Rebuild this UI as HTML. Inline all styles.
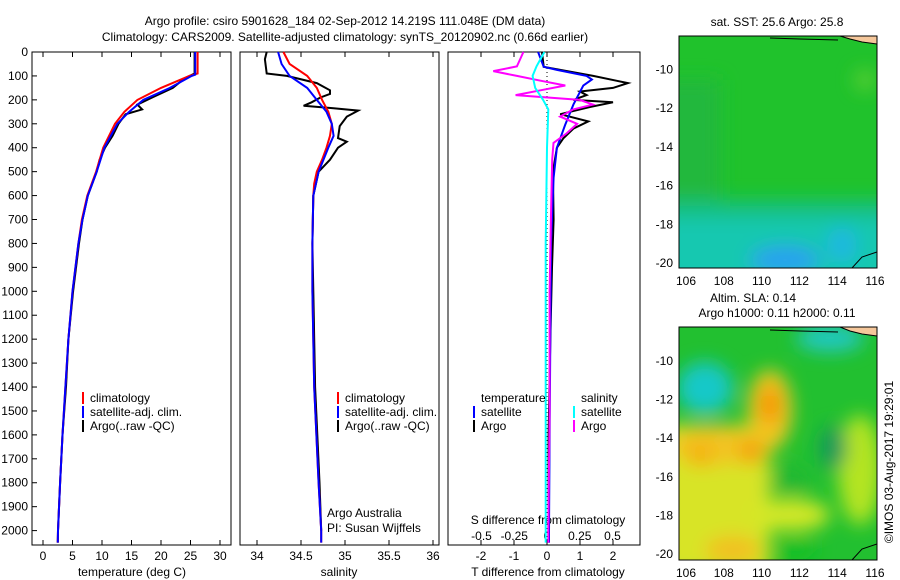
<!DOCTYPE html>
<html><head><meta charset="utf-8"><style>
body{margin:0;background:#fff;}
svg{display:block;font-family:"Liberation Sans",sans-serif;font-size:12px;}
</style></head><body>
<svg id="c" width="900" height="580" viewBox="0 0 900 580">
<defs>
<filter id="bl" x="-50%" y="-50%" width="200%" height="200%"><feGaussianBlur stdDeviation="9"/></filter>
<clipPath id="m1"><rect x="679" y="36" width="198" height="232"/></clipPath>
<clipPath id="m2"><rect x="679" y="327" width="198" height="233"/></clipPath>
</defs>
<text x="345" y="25" text-anchor="middle">Argo profile: csiro 5901628_184 02-Sep-2012 14.219S 111.048E (DM data)</text>
<text x="345" y="41" text-anchor="middle">Climatology: CARS2009. Satellite-adjusted climatology: synTS_20120902.nc (0.66d earlier)</text>
<g id="g"></g>
<!-- SST map -->
<g clip-path="url(#m1)">
<rect x="679" y="36" width="198" height="232" fill="#20c22c"/>
<g filter="url(#bl)">
<rect x="660" y="80" width="60" height="150" fill="#22b83c"/>
<rect x="660" y="200" width="240" height="20" fill="#18c080"/>
<rect x="660" y="218" width="240" height="70" fill="#14c8b0"/>
<ellipse cx="785" cy="260" rx="35" ry="14" fill="#2aa0f0"/>
<ellipse cx="842" cy="245" rx="15" ry="18" fill="#1cb8e0"/>
<ellipse cx="865" cy="80" rx="10" ry="10" fill="#60d030"/>
</g>
<polygon points="840,36 877,36 877,44 862,42 850,39" fill="#f5c79b" stroke="#000" stroke-width="1"/>
<path d="M770,38 L800,39 L838,40" stroke="#000" fill="none"/>
<path d="M852,268 L862,257 L877,252" stroke="#000" fill="none"/>
</g>
<rect x="679" y="36" width="198" height="232" fill="none" stroke="#000"/>
<text x="777" y="26" text-anchor="middle">sat. SST: 25.6 Argo: 25.8</text>
<!-- SLA map -->
<g clip-path="url(#m2)">
<rect x="679" y="327" width="198" height="233" fill="#22c030"/>
<g filter="url(#bl)">
<ellipse cx="705" cy="388" rx="28" ry="26" fill="#18c8c8"/>
<ellipse cx="830" cy="338" rx="34" ry="14" fill="#20c8c0"/>
<rect x="660" y="425" width="110" height="150" fill="#d8e428"/>
<ellipse cx="715" cy="445" rx="45" ry="20" fill="#f2c420"/>
<ellipse cx="770" cy="410" rx="22" ry="40" fill="#f2c820"/>
<ellipse cx="770" cy="405" rx="11" ry="20" fill="#f59400"/>
<ellipse cx="752" cy="452" rx="13" ry="12" fill="#f59e00"/>
<ellipse cx="700" cy="455" rx="14" ry="12" fill="#f5b010"/>
<ellipse cx="790" cy="515" rx="40" ry="16" fill="#d4e828"/>
<ellipse cx="860" cy="470" rx="22" ry="55" fill="#b4e424"/>
<ellipse cx="833" cy="448" rx="14" ry="22" fill="#149a5a"/>
<ellipse cx="733" cy="550" rx="28" ry="14" fill="#f2c020"/>
<ellipse cx="795" cy="550" rx="22" ry="10" fill="#10c020"/>
<ellipse cx="790" cy="480" rx="20" ry="14" fill="#22b830"/>
</g>
<polygon points="840,327 877,327 877,336 862,334 850,331" fill="#f5c79b" stroke="#000" stroke-width="1"/>
<path d="M770,330 L800,331 L838,332" stroke="#000" fill="none"/>
<path d="M852,560 L862,549 L877,544" stroke="#000" fill="none"/>
</g>
<rect x="679" y="327" width="198" height="233" fill="none" stroke="#000"/>
<text x="753" y="302" text-anchor="middle">Altim. SLA: 0.14</text>
<text x="777" y="317" text-anchor="middle">Argo h1000: 0.11 h2000: 0.11</text>
<text transform="translate(893,462) rotate(-90)" text-anchor="middle">©IMOS 03-Aug-2017 19:29:01</text>
</svg>
<script>
// ---- data ----
var depthTicks=[0,100,200,300,400,500,600,700,800,900,1000,1100,1200,1300,1400,1500,1600,1700,1800,1900,2000];
var tempTicks=[0,5,10,15,20,25,30];
var salTicks=[34,34.5,35,35.5,36];
var tdiffTicks=[-2,-1,0,1,2];
var sdiffTicks=[-0.5,-0.25,0,0.25,0.5];
var sdiffLabels=["-0.5","-0.25","0","0.25","0.5"];
var latTicks=[-10,-12,-14,-16,-18,-20];
var lonTicks=[106,108,110,112,114,116];

var tClimD=[0,90,100,150,200,250,300,400,500,600,700,800,1000,1200,1400,1600,1800,2000,2050];
var tClim=[26.2,26.2,24.8,20,16,13.8,12.2,10.2,9,7.5,6.6,6,5,4.3,3.8,3.3,2.9,2.55,2.5];
var tSatD=[0,95,100,150,200,250,300,400,500,600,700,800,1000,1200,1400,1600,1800,2000,2050];
var tSat=[25.8,25.8,25.2,21.5,17,14.6,12.6,10.4,9.1,7.6,6.7,6,5,4.3,3.8,3.3,2.9,2.55,2.5];
var tArgoD=[0,90,110,150,190,220,240,260,300,350,400,450,500,600,700,800,1000,1200,1400,1600,1800,2000,2050];
var tArgo=[25.7,25.7,24,22,18.5,16,16.8,14,12.8,11.8,10.5,9.6,9.1,7.6,6.7,6.1,5.1,4.3,3.9,3.3,2.9,2.55,2.5];

var sClimD=[0,50,100,150,200,250,300,350,400,450,500,550,600,800,1000,1400,1800,2000,2050];
var sClim=[34.30,34.37,34.57,34.68,34.74,34.81,34.85,34.83,34.79,34.74,34.68,34.65,34.64,34.63,34.63,34.65,34.70,34.73,34.73];
var sSatD=[0,50,100,150,200,250,300,350,400,500,600,800,1000,1400,1800,2000,2050];
var sSat=[34.24,34.28,34.37,34.57,34.68,34.79,34.85,34.87,34.81,34.70,34.64,34.63,34.63,34.65,34.70,34.73,34.73];
var sArgoD=[0,30,90,100,130,160,175,190,210,225,235,245,270,310,360,375,400,450,500,600,800,1000,1400,1800,2000];
var sArgo=[34.11,34.09,34.11,34.34,34.68,34.83,34.83,34.72,34.62,34.53,34.87,35.15,35.02,34.94,34.92,35.02,34.92,34.83,34.70,34.64,34.63,34.64,34.66,34.71,34.73];

var dTSatD=[0,62,75,100,115,140,220,305,400,525,800,1200,1600,2000,2050];
var dTSat=[-0.27,-0.1,0.3,1.2,1.36,1.1,0.8,0.55,0.3,0.2,0.12,0.1,0.08,0.06,0.06];
var dTArgoD=[0,62,100,120,130,150,165,180,200,210,230,260,290,320,360,400,500,700,900,1200,1600,2000,2050];
var dTArgo=[-0.15,-0.1,1.4,2.1,2.45,2.0,1.0,1.2,0.8,2.0,1.3,0.4,1.25,0.8,0.5,0.3,0.18,0.2,0.15,0.1,0.05,0.05,0.05];
var dSArgoD=[0,60,80,100,120,140,160,180,200,220,240,270,300,340,380,450,700,1000,1500,2000,2050];
var dSArgo=[-0.18,-0.23,-0.41,-0.23,-0.05,0.14,-0.05,-0.24,0.25,0.35,0.2,0.1,0.23,0.15,0.05,0.04,0.03,0.02,0.02,0.01,0.01];
var dSSatD=[0,60,100,150,200,240,400,800,1200,1600,2000,2050];
var dSSat=[-0.02,-0.08,-0.11,-0.09,-0.03,0.01,0.0,-0.01,-0.01,-0.01,-0.01,-0.01];

// ---- drawing ----
var NS="http://www.w3.org/2000/svg";
var G=document.getElementById('g');
function mk(t,a,p){var e=document.createElementNS(NS,t);for(var k in a)e.setAttribute(k,a[k]);(p||G).appendChild(e);return e;}
var Y0=52,YB=545;
function yD(d){return Y0+d*0.2393;}
var P1={l:32,r:231,x:function(v){return 43+v*5.9;}};
var P2={l:240,r:439,x:function(v){return 257+(v-34)*88;}};
var P3={l:448,r:640,x:function(v){return 547+v*33;}};
function xS3(v){return 547+v*131;}

[P1,P2,P3].forEach(function(p,i){
  var r=mk('rect',{x:p.l,y:Y0,width:p.r-p.l,height:YB-Y0,fill:'none',stroke:'#000'});
  
  
});
depthTicks.forEach(function(d){
  var y=yD(d);
  var t=mk('text',{x:28,y:y+4,'text-anchor':'end'});t.textContent=d;
  
  
  mk('line',{x1:P1.l,x2:P1.l+5,y1:y,y2:y,stroke:'#000'});
});
function xticks(p,ticks,fn,labels,y){
  ticks.forEach(function(v,i){
    var x=fn(v);
    mk('line',{x1:x,x2:x,y1:YB,y2:YB-5,stroke:'#000'});
    mk('line',{x1:x,x2:x,y1:Y0,y2:Y0+5,stroke:'#000'});
    var t=mk('text',{x:x,y:y,'text-anchor':'middle'});t.textContent=labels?labels[i]:v;
    
    
  });
}
xticks(P1,tempTicks,P1.x,null,560);
xticks(P2,salTicks,P2.x,null,560);
xticks(P3,tdiffTicks,P3.x,null,560);
sdiffTicks.forEach(function(v,i){
  var x=xS3(v);
  var t=mk('text',{x:x,y:540,'text-anchor':'middle'});t.textContent=sdiffLabels[i];
  
  
});
function lab(x,y,s,n,anc){var t=mk('text',{x:x,y:y,'text-anchor':anc||'middle'});t.textContent=s;
  
  return t;}
lab(132,576,'temperature (deg C)','x-axis-title-temperature');
lab(339,576,'salinity','x-axis-title-salinity');
lab(548,576,'T difference from climatology','x-axis-title-t-diff');
lab(548,524,'S difference from climatology','x-axis-title-s-diff');
lab(327,517,'Argo Australia','credit-argo-australia','start');
lab(327,532,'PI: Susan Wijffels','credit-pi','start');
mk('line',{x1:547,x2:547,y1:Y0,y2:YB,stroke:'#000','stroke-dasharray':'1,3'});

function line(fn,ds,vs,col,w,name){
  var pts=ds.map(function(d,i){return fn(vs[i]).toFixed(1)+','+yD(d).toFixed(1);}).join(' ');
  var e=mk('polyline',{points:pts,fill:'none',stroke:col,'stroke-width':w});
  
  
}
line(P1.x,tArgoD,tArgo,'#000',2,'temp-argo-line');
line(P1.x,tClimD,tClim,'#f00',2,'temp-climatology-line');
line(P1.x,tSatD,tSat,'#00f',2,'temp-satellite-line');
line(P2.x,sArgoD,sArgo,'#000',2,'sal-argo-line');
line(P2.x,sClimD,sClim,'#f00',2,'sal-climatology-line');
line(P2.x,sSatD,sSat,'#00f',2,'sal-satellite-line');
line(P3.x,dTArgoD,dTArgo,'#000',2,'tdiff-argo-line');
line(P3.x,dTSatD,dTSat,'#00f',2,'tdiff-satellite-line');
line(xS3,dSArgoD,dSArgo,'#f0f',2,'sdiff-argo-line');
line(xS3,dSSatD,dSSat,'#0ff',2,'sdiff-satellite-line');

function leg(x,y,col,s,n){
  mk('rect',{x:x,y:y-10,width:2,height:12,fill:col});
  var t=mk('text',{x:x+8,y:y});t.textContent=s;
  
  
}
[['climatology','#f00'],['satellite-adj. clim.','#00f'],['Argo(..raw -QC)','#000']].forEach(function(a,i){
  leg(82,402+i*14,a[1],a[0],'legend-temp-entry');
  leg(337,402+i*14,a[1],a[0],'legend-sal-entry');
});
lab(481,402,'temperature','legend-temp-header','start');
lab(581,402,'salinity','legend-sal-header','start');
leg(473,416,'#00f','satellite','legend-tdiff-satellite');
leg(473,430,'#000','Argo','legend-tdiff-argo');
leg(573,416,'#0ff','satellite','legend-sdiff-satellite');
leg(573,430,'#f0f','Argo','legend-sdiff-argo');

function mapAxes(top,lat10,scale,name){
  latTicks.forEach(function(v){
    var y=lat10+(-10-v)*scale;
    mk('line',{x1:679,x2:683,y1:y,y2:y,stroke:'#000'});
    mk('line',{x1:873,x2:877,y1:y,y2:y,stroke:'#000'});
    var t=mk('text',{x:673,y:y+4,'text-anchor':'end'});t.textContent=v;
    
    
  });
  lonTicks.forEach(function(v){
    var x=686+(v-106)*18.9;
    var t=mk('text',{x:x,y:top+17,'text-anchor':'middle'});t.textContent=v;
    
    
  });
  var c=mk('circle',{cx:686+(111.048-106)*18.9,cy:lat10+(-10+14.219)*scale,r:6,fill:'none',stroke:'#000'});
  
  
}
mapAxes(268,69.5,19.35,'sst-map');
mapAxes(560,361,19.3,'sla-map');
</script>
</body></html>
